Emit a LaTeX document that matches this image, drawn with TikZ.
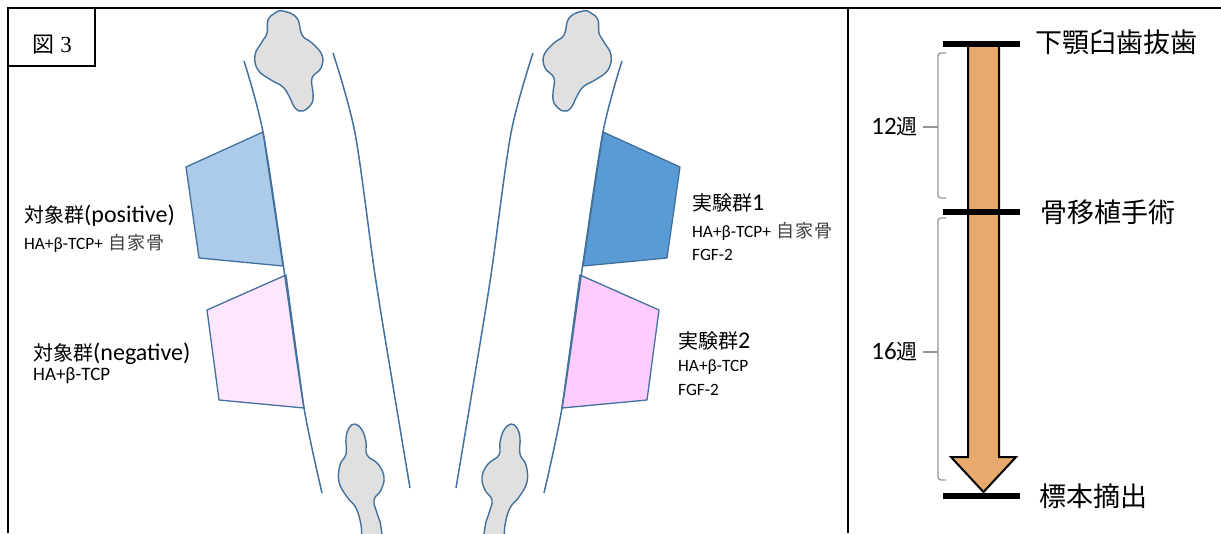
\documentclass[tikz,border=0pt]{standalone}
\usepackage{fontspec}
\setmainfont{Carlito}
\newfontfamily\cjk{Noto Sans CJK JP}
\newfontfamily\figfont{Liberation Serif}
\usepackage{tikz}

\definecolor{boneline}{RGB}{65,113,156}
\definecolor{paleblue}{RGB}{172,202,233}
\definecolor{midblue}{RGB}{91,155,213}
\definecolor{palepink}{RGB}{255,230,255}
\definecolor{midpink}{RGB}{255,204,255}
\definecolor{toothgray}{RGB}{224,224,224}
\definecolor{shaft}{RGB}{232,170,108}
\definecolor{bracegray}{RGB}{150,150,150}

\tikzset{
  graft/.style={draw=boneline, line width=1.3pt, line join=round},
  bone/.style={boneline, line width=1.5pt},
  tooth/.style={draw=boneline, fill=toothgray, line width=1.4pt},
  grp/.style={anchor=base west, inner sep=0pt, font=\fontsize{24}{26}\selectfont},
  mat/.style={anchor=base west, inner sep=0pt, font=\fontsize{17.3}{20}\selectfont},
  stage/.style={anchor=base west, inner sep=0pt, font=\cjk\fontsize{27}{32}\selectfont},
  weeks/.style={anchor=east, inner sep=5pt, font=\fontsize{25}{28}\selectfont},
  bar/.style={line width=6.5pt},
  brace/.style={bracegray, line width=1.3pt, rounded corners=3pt},
}
\newcommand{\jp}[1]{{\cjk\fontsize{20}{24}\selectfont #1}}
\newcommand{\own}{\hspace{6pt}{\cjk\fontsize{18}{20}\selectfont\color{black!75}自\hspace{1pt}家\hspace{1pt}骨}}

\begin{document}
\begin{tikzpicture}[x=1pt,y=-1pt]
\useasboundingbox (0,0) rectangle (1221,533);

\draw[line width=2.5pt] (8,533) -- (8,8) -- (1221,8);
\draw[line width=2.5pt] (848,8) -- (848,533);
\draw[line width=2pt] (8,8) rectangle (95,66);
\node (fig) at (52,52.5) [anchor=base, inner sep=0pt] {{\cjk\fontsize{22}{24}\selectfont 図}\hspace{6pt}{\figfont\fontsize{23}{24}\selectfont 3}};

% grafts
\filldraw[graft, fill=paleblue] (263,132) -- (186,167) -- (199,258) -- (283,266) -- cycle;
\filldraw[graft, fill=palepink] (286,275) -- (207,310) -- (219,400) -- (304,408) -- cycle;
\filldraw[graft, fill=midblue] (603,132) -- (680,167) -- (667,258) -- (583,266) -- cycle;
\filldraw[graft, fill=midpink] (580,275) -- (659,310) -- (647,400) -- (562,408) -- cycle;

% jaw, left side and its mirror
\begin{scope}
\clip (0,0) rectangle (1221,533);
\foreach \side in {0,1} {
  \begin{scope}[xshift=866*\side, xscale=1-2*\side]
    \draw[bone] plot[smooth] coordinates {(244,61) (263,132) (284,270) (304,408) (322,493)};
    \draw[bone] plot[smooth] coordinates {(333,53) (355,133) (375,275) (392,380) (410,488)};
    \filldraw[tooth] plot[smooth cycle, tension=0.7] coordinates {(283,11) (297,18) (302,35) (312,43) (322,55)
      (321,68) (312,78) (313,93) (312,103) (303,111) (295,108) (290,98) (283,87) (271,80) (258,70)
      (255,55) (262,42) (267,33) (268,20) (275,13)};
    \filldraw[tooth] plot[smooth cycle, tension=0.7] coordinates {(355,424) (362,430) (366,442) (367,455)
      (378,464) (384,477) (381,490) (374,500) (377,513) (381,527) (381,548) (364,548) (361,525)
      (356,508) (347,497) (339,482) (340,465) (346,454) (346,438) (349,428)};
  \end{scope}
}
\end{scope}

% groups
\node (posT) at (24,222.6) [grp] {\jp{対象群}(positive)};
\node (posM) at (24,249.5) [mat] {HA+β-TCP+\own};
\node (negT) at (33,360.6) [grp] {\jp{対象群}(negative)};
\node (negM) at (33,380) [mat, font=\fontsize{19}{22}\selectfont] {HA+β-TCP};
\node (ex1T) at (692,210.6) [grp] {\jp{実験群}1};
\node (ex1M) at (692,237.5) [mat] {HA+β-TCP+\own};
\node (ex1F) at (692,260.5) [mat] {FGF-2};
\node (ex2T) at (678,348.6) [grp] {\jp{実験群}2};
\node (ex2M) at (678,371.5) [mat] {HA+β-TCP};
\node (ex2F) at (678,395.5) [mat] {FGF-2};

% time line
\filldraw[fill=shaft, line width=2pt, line join=miter] (968,44) -- (968,457) -- (951,457) -- (983.5,492)
  -- (1016,457) -- (999,457) -- (999,44) -- cycle;
\draw[bar] (943,44) -- (1020,44);
\draw[bar] (943,212) -- (1020,212);
\draw[bar] (943,496) -- (1020,496);
\node (extract) at (1035,52.3) [stage] {下顎臼歯抜歯};
\node (implant) at (1040,222.3) [stage] {骨移植手術};
\node (harvest) at (1039,506.3) [stage] {標本摘出};

\node (w12) at (923,127) [weeks] {12{\cjk\fontsize{21}{24}\selectfont 週}};
\node (w16) at (923,352) [weeks] {16{\cjk\fontsize{21}{24}\selectfont 週}};
\draw[brace] (946,53) -- (938,53) -- (938,198) -- (946,198);
\draw[brace] (946,218) -- (938,218) -- (938,480) -- (946,480);
\draw[bracegray, line width=1.3pt] (938,127) -- (w12.east);
\draw[bracegray, line width=1.3pt] (938,352) -- (w16.east);
\end{tikzpicture}
\end{document}
